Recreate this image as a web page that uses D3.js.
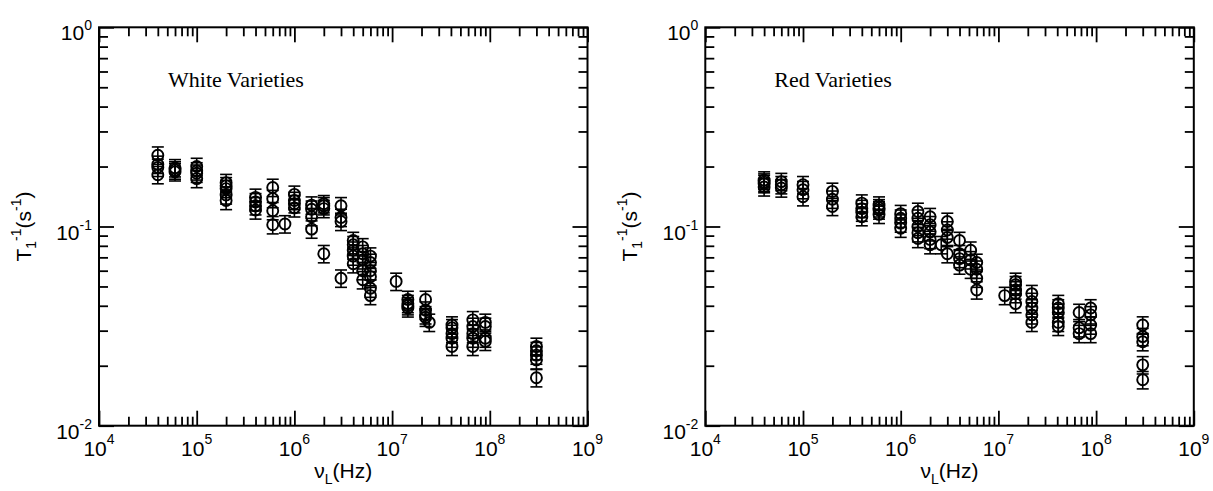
<!DOCTYPE html>
<html>
<head>
<meta charset="utf-8">
<script src="https://cdn.jsdelivr.net/npm/d3@7"></script>
<style>
  body { margin: 0; background: #fff; }
  svg { display: block; }
</style>
</head>
<body>
<svg id="chart" width="1213" height="491"></svg>
<script>
// Larmor frequency (Hz) and relaxation rate 1/T1 (s^-1), one entry per measurement
const whiteFreq = [
  4e4, 4e4, 4e4, 4e4,
  6e4, 6e4, 6e4,
  1e5, 1e5, 1e5, 1e5,
  2e5, 2e5, 2e5, 2e5, 2e5,
  4e5, 4e5, 4e5, 4e5,
  6e5, 6e5, 6e5, 6e5,
  8e5,
  1e6, 1e6, 1e6, 1e6,
  1.5e6, 1.5e6, 1.5e6, 1.5e6,
  2e6, 2e6, 2e6, 2e6,
  3e6, 3e6, 3e6, 3e6,
  4e6, 4e6, 4e6, 4e6, 4e6,
  5e6, 5e6, 5e6, 5e6, 5e6,
  6e6, 6e6, 6e6, 6e6, 6e6, 6e6,
  1.1e7,
  1.45e7, 1.45e7, 1.45e7, 1.45e7,
  2.2e7, 2.2e7, 2.2e7, 2.2e7,
  2.4e7,
  4.1e7, 4.1e7, 4.1e7, 4.1e7, 4.1e7,
  6.7e7, 6.7e7, 6.7e7, 6.7e7, 6.7e7,
  9e7, 9e7, 9e7, 9e7,
  3e8, 3e8, 3e8, 3e8, 3e8
];
const whiteRate = [
  0.228, 0.205, 0.198, 0.182,
  0.197, 0.192, 0.188,
  0.200, 0.190, 0.185, 0.174,
  0.166, 0.160, 0.155, 0.144, 0.135,
  0.140, 0.133, 0.127, 0.121,
  0.157, 0.138, 0.120, 0.102,
  0.103,
  0.145, 0.135, 0.130, 0.124,
  0.128, 0.122, 0.112, 0.097,
  0.130, 0.127, 0.123, 0.073,
  0.127, 0.111, 0.106, 0.055,
  0.085, 0.081, 0.076, 0.071, 0.065,
  0.079, 0.073, 0.068, 0.060, 0.054,
  0.071, 0.066, 0.060, 0.056, 0.049, 0.045,
  0.053,
  0.043, 0.041, 0.040, 0.039,
  0.043, 0.038, 0.036, 0.035,
  0.033,
  0.032, 0.031, 0.029, 0.0275, 0.025,
  0.034, 0.0315, 0.029, 0.0275, 0.025,
  0.033, 0.0315, 0.0275, 0.0265,
  0.025, 0.0238, 0.0226, 0.0214, 0.0174
];

const redFreq = [
  4e4, 4e4, 4e4, 4e4,
  6e4, 6e4, 6e4,
  1e5, 1e5, 1e5,
  2e5, 2e5, 2e5,
  4e5, 4e5, 4e5, 4e5,
  6e5, 6e5, 6e5, 6e5,
  1e6, 1e6, 1e6, 1e6,
  1.5e6, 1.5e6, 1.5e6, 1.5e6, 1.5e6,
  2e6, 2e6, 2e6, 2e6, 2e6,
  2.6e6,
  3e6, 3e6, 3e6, 3e6,
  4e6, 4e6, 4e6, 4e6,
  5.2e6, 5.2e6, 5.2e6,
  6e6, 6e6, 6e6, 6e6,
  1.16e7,
  1.5e7, 1.5e7, 1.5e7, 1.5e7, 1.5e7,
  2.2e7, 2.2e7, 2.2e7, 2.2e7, 2.2e7,
  4.1e7, 4.1e7, 4.1e7, 4.1e7, 4.1e7,
  6.7e7, 6.7e7, 6.7e7,
  8.8e7, 8.8e7, 8.8e7, 8.8e7,
  3e8, 3e8, 3e8, 3e8, 3e8
];
const redRate = [
  0.171, 0.167, 0.164, 0.158,
  0.168, 0.162, 0.156,
  0.162, 0.153, 0.141,
  0.150, 0.137, 0.126,
  0.131, 0.123, 0.118, 0.112,
  0.128, 0.124, 0.121, 0.115,
  0.116, 0.110, 0.104, 0.098,
  0.119, 0.110, 0.100, 0.093, 0.087,
  0.112, 0.102, 0.094, 0.086, 0.081,
  0.081,
  0.106, 0.096, 0.088, 0.073,
  0.085, 0.073, 0.069, 0.064,
  0.076, 0.068, 0.061,
  0.066, 0.061, 0.055, 0.048,
  0.045,
  0.053, 0.051, 0.048, 0.046, 0.041,
  0.046, 0.042, 0.039, 0.036, 0.033,
  0.041, 0.039, 0.037, 0.033, 0.0315,
  0.037, 0.031, 0.029,
  0.039, 0.036, 0.032, 0.029,
  0.032, 0.028, 0.0264, 0.0202, 0.0170
];

// relative uncertainty shown by the error bars
const relErr = 0.1;

// axis ranges and decade tick labels (exponents of 10)
const xDomain = [1e4, 1e9];
const yDomain = [1e-2, 1];
const xExponents = [4, 5, 6, 7, 8, 9];
const yExponents = [-2, -1, 0];
const minorMantissas = [2, 3, 4, 5, 6, 7, 8, 9];

const panelTitles = ["White Varieties", "Red Varieties"];

const svg = d3.select("#chart");
const SANS = "'Liberation Sans', Arial, Helvetica, sans-serif";
const SERIF = "'Liberation Serif', 'Times New Roman', serif";

const frameTop = 27.3, frameBottom = 425.7;
const panelWidth = 488.5;
const panelLefts = [99, 705.3];
const majorLen = 15, minorLen = 9;

function minorTicks(exps) {
  const out = [];
  for (let i = 0; i < exps.length - 1; i++)
    for (const m of minorMantissas) out.push(m * Math.pow(10, exps[i]));
  return out;
}

function drawPanel(left, freq, rate, title) {
  const x = d3.scaleLog().domain(xDomain).range([left, left + panelWidth]);
  const y = d3.scaleLog().domain(yDomain).range([frameBottom, frameTop]);
  const g = svg.append("g");

  const xMaj = xExponents.map(e => Math.pow(10, e));
  const yMaj = yExponents.map(e => Math.pow(10, e));
  const xMin = minorTicks(xExponents);
  const yMin = minorTicks(yExponents);

  // inward ticks on all four sides
  const axes = [
    [d3.axisBottom(x), `translate(0,${frameBottom})`, xMaj, xMin],
    [d3.axisTop(x), `translate(0,${frameTop})`, xMaj, xMin],
    [d3.axisLeft(y), `translate(${left},0)`, yMaj, yMin],
    [d3.axisRight(y), `translate(${left + panelWidth},0)`, yMaj, yMin]
  ];
  axes.forEach(([ax, tr, maj, min]) => {
    [[maj, majorLen], [min, minorLen]].forEach(([vals, len]) => {
      const a = g.append("g").attr("transform", tr)
        .call(ax.tickValues(vals).tickSize(-len).tickSizeOuter(0).tickFormat(""));
      a.select(".domain").remove();
      a.selectAll(".tick line").attr("stroke", "#000").attr("stroke-width", 1.8);
    });
  });

  // frame
  g.append("rect")
    .attr("x", left).attr("y", frameTop)
    .attr("width", panelWidth).attr("height", frameBottom - frameTop)
    .attr("fill", "none").attr("stroke", "#000").attr("stroke-width", 2);

  // x tick labels 10^n
  xExponents.forEach(e => {
    const t = g.append("text")
      .attr("x", x(Math.pow(10, e))).attr("y", 456)
      .attr("text-anchor", "middle")
      .attr("font-family", SANS).attr("font-size", 21);
    t.append("tspan").text("10");
    t.append("tspan").attr("dy", -12).attr("font-size", 14).text(e);
  });

  // y tick labels 10^n
  yExponents.forEach(e => {
    const t = g.append("text")
      .attr("x", left - 7).attr("y", y(Math.pow(10, e)) + 13)
      .attr("text-anchor", "end")
      .attr("font-family", SANS).attr("font-size", 21);
    t.append("tspan").text("10");
    t.append("tspan").attr("dy", -10).attr("font-size", 14).text(e);
  });

  // x axis title
  const xt = g.append("text")
    .attr("x", left + panelWidth / 2).attr("y", 478)
    .attr("text-anchor", "middle")
    .attr("font-family", SANS).attr("font-size", 21);
  xt.append("tspan").text("\u03BD");
  xt.append("tspan").attr("dy", 6).attr("font-size", 14).text("L");
  xt.append("tspan").attr("dy", -6).text("(Hz)");

  // y axis title
  const yt = g.append("text")
    .attr("transform", `translate(${left - 68},${(frameTop + frameBottom) / 2}) rotate(-90)`)
    .attr("text-anchor", "middle")
    .attr("font-family", SANS).attr("font-size", 21);
  yt.append("tspan").text("T");
  yt.append("tspan").attr("dy", 5).attr("font-size", 14).text("1");
  yt.append("tspan").attr("dy", -15).attr("font-size", 14).text("-1");
  yt.append("tspan").attr("dy", 10).text("(s");
  yt.append("tspan").attr("dy", -10).attr("font-size", 14).text("-1");
  yt.append("tspan").attr("dy", 10).text(")");

  // panel title
  g.append("text")
    .attr("x", left + 69).attr("y", 86.7)
    .attr("font-family", SERIF).attr("font-size", 22)
    .text(title);

  // error bars and open circles
  const pts = freq.map((f, i) => ({ f, r: rate[i] }));
  const cap = 6;
  const eb = g.append("g").attr("stroke", "#000").attr("stroke-width", 1.6).attr("fill", "none");
  pts.forEach(p => {
    const cx = x(p.f);
    const yHi = y(p.r * (1 + relErr)), yLo = y(p.r * (1 - relErr));
    eb.append("line").attr("x1", cx).attr("x2", cx).attr("y1", yHi).attr("y2", yLo);
    eb.append("line").attr("x1", cx - cap).attr("x2", cx + cap).attr("y1", yHi).attr("y2", yHi);
    eb.append("line").attr("x1", cx - cap).attr("x2", cx + cap).attr("y1", yLo).attr("y2", yLo);
  });
  g.append("g").selectAll("circle").data(pts).join("circle")
    .attr("cx", d => x(d.f)).attr("cy", d => y(d.r)).attr("r", 5.5)
    .attr("fill", "none").attr("stroke", "#000").attr("stroke-width", 1.9);
}

drawPanel(panelLefts[0], whiteFreq, whiteRate, panelTitles[0]);
drawPanel(panelLefts[1], redFreq, redRate, panelTitles[1]);
</script>
</body>
</html>
